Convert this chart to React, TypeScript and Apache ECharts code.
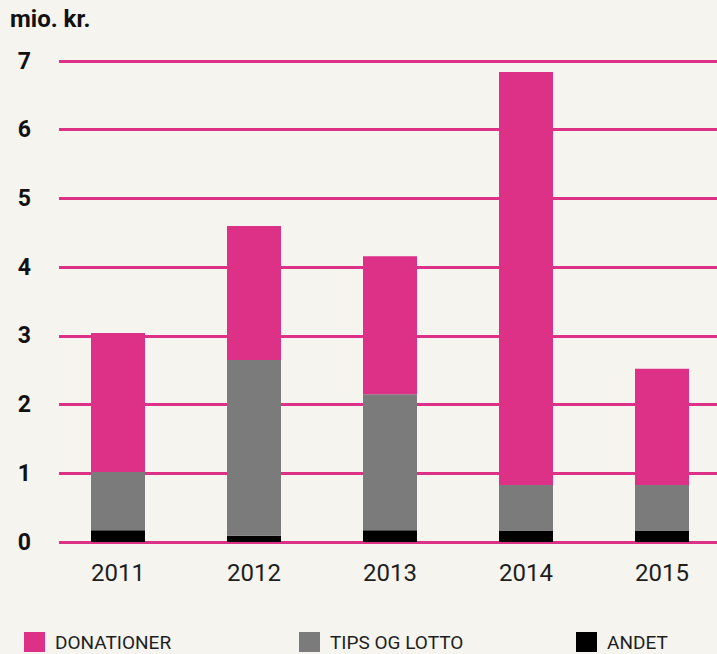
import React, { useEffect, useRef } from "react";
import * as echarts from "echarts";

const years = ["2011", "2012", "2013", "2014", "2015"];
const andet = [0.17, 0.09, 0.17, 0.16, 0.16];
const tipsOgLotto = [0.85, 2.56, 1.98, 0.67, 0.67];
const donationer = [2.02, 1.95, 2.01, 6.01, 1.69];
const yTicks = [0, 1, 2, 3, 4, 5, 6, 7];

const MAGENTA = "#dd3188";
const GRAY = "#7c7b7b";
const BLACK = "#000000";
const BG = "#f5f4ef";
const FONT = "Roboto, 'Noto Sans', sans-serif";

export default function App() {
  const ref = useRef<HTMLDivElement>(null);
  useEffect(() => {
    if (!ref.current) return;
    const chart = echarts.init(ref.current, undefined, { renderer: "svg" });
    const top = 61;
    const height = 481;
    const legendItem = (name: string, left: number) => ({
      show: true,
      left,
      top: 632,
      orient: "horizontal",
      icon: "rect",
      itemWidth: 21,
      itemHeight: 20,
      padding: 0,
      selectedMode: false,
      data: [name],
      textStyle: {
        fontFamily: FONT,
        fontSize: 19,
        lineHeight: 20,
        color: "#1e1e1e",
        padding: [0, 0, 0, 5],
      },
    });
    chart.setOption({
      animation: false,
      backgroundColor: BG,
      textStyle: { fontFamily: FONT },
      title: {
        text: "mio. kr.",
        left: 10,
        top: 7,
        padding: 0,
        textStyle: { fontFamily: FONT, fontSize: 24, fontWeight: "bold", color: "#111" },
      },
      legend: [
        legendItem("DONATIONER", 24),
        legendItem("TIPS OG LOTTO", 299),
        legendItem("ANDET", 576),
      ],
      grid: [
        { left: 59, right: 0, top, height, containLabel: false },
        { left: 118, right: 55, top, height, containLabel: false },
      ],
      xAxis: [
        {
          gridIndex: 0,
          type: "category",
          data: years,
          show: false,
        },
        {
          gridIndex: 1,
          type: "category",
          data: years,
          boundaryGap: false,
          axisLine: { show: false },
          axisTick: { show: false },
          axisLabel: {
            margin: 19,
            fontFamily: FONT,
            fontSize: 24,
            color: "#1e1e1e",
          },
        },
      ],
      yAxis: [
        {
          gridIndex: 0,
          type: "value",
          min: yTicks[0],
          max: yTicks[yTicks.length - 1],
          interval: 1,
          axisLine: { show: false },
          axisTick: { show: false },
          splitLine: { show: true, lineStyle: { color: MAGENTA, width: 3 } },
          axisLabel: {
            margin: 28,
            fontFamily: FONT,
            fontSize: 23,
            fontWeight: "bold",
            color: "#111",
          },
        },
        {
          gridIndex: 1,
          type: "value",
          min: yTicks[0],
          max: yTicks[yTicks.length - 1],
          interval: 1,
          show: false,
          splitLine: { show: false },
        },
      ],
      series: [
        {
          name: "ANDET",
          type: "bar",
          stack: "total",
          xAxisIndex: 1,
          yAxisIndex: 1,
          barWidth: 54,
          itemStyle: { color: BLACK },
          data: andet,
        },
        {
          name: "TIPS OG LOTTO",
          type: "bar",
          stack: "total",
          xAxisIndex: 1,
          yAxisIndex: 1,
          barWidth: 54,
          itemStyle: { color: GRAY },
          data: tipsOgLotto,
        },
        {
          name: "DONATIONER",
          type: "bar",
          stack: "total",
          xAxisIndex: 1,
          yAxisIndex: 1,
          barWidth: 54,
          itemStyle: { color: MAGENTA },
          data: donationer,
        },
      ],
    });
    return () => chart.dispose();
  }, []);
  return (
    <div
      ref={ref}
      style={{ position: "absolute", left: 0, top: 0, width: 717, height: 654 }}
    />
  );
}
